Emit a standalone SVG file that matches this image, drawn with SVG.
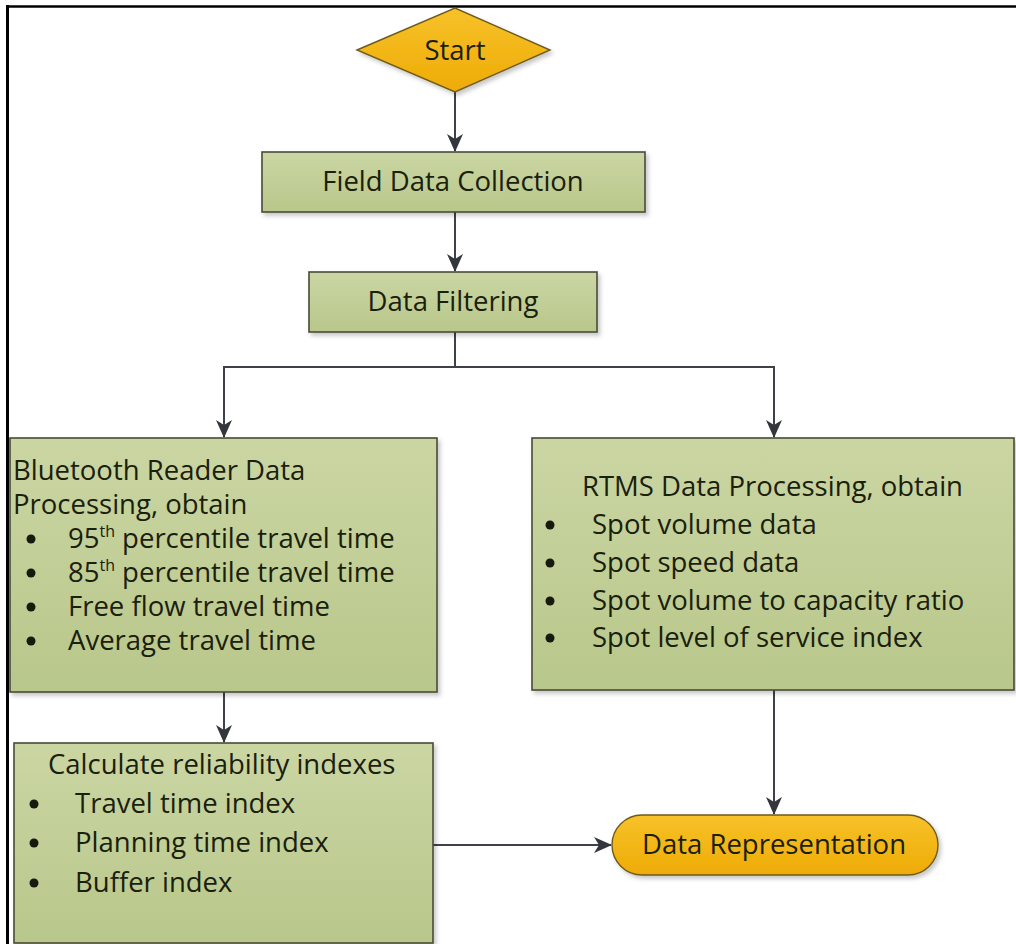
<svg xmlns="http://www.w3.org/2000/svg" width="1016" height="944" viewBox="0 0 1016 944">
<defs>
<style>
.box{fill:url(#g);stroke:#4a4a3a;stroke-width:1.6;filter:url(#sh)}
.gold{fill:url(#y);stroke:#6e5a1e;stroke-width:1.4;filter:url(#sh)}
.t{font-family:"Open Sans","Noto Sans",sans-serif;font-size:27.5px;fill:#1a200c}
.c{text-anchor:middle}
.sup{font-size:16px}
.b{fill:#151a0c}
.ln{fill:none;stroke:#3e4248;stroke-width:2}
</style>
<linearGradient id="g" x1="0" y1="0" x2="0" y2="1">
<stop offset="0" stop-color="#cbd6a3"/>
<stop offset="1" stop-color="#b8c78b"/>
</linearGradient>
<linearGradient id="y" x1="0" y1="0" x2="0" y2="1">
<stop offset="0" stop-color="#f7c22a"/>
<stop offset="1" stop-color="#eeab05"/>
</linearGradient>
<filter id="sh" x="-5%" y="-5%" width="115%" height="125%">
<feDropShadow dx="2.5" dy="3" stdDeviation="2" flood-color="#000" flood-opacity="0.22"/>
</filter>
<marker id="ah" viewBox="0 0 18 16" refX="17" refY="8" markerWidth="18" markerHeight="16" markerUnits="userSpaceOnUse" orient="auto">
<path d="M0,0 L18,8 L0,16 L5,8 Z" fill="#33373d"/>
</marker>
</defs>
<rect width="1016" height="944" fill="#fff"/>
<g id="frame">
<line x1="6" y1="6.5" x2="1016" y2="6.5" stroke="#000" stroke-width="2.5"/>
<line x1="7.5" y1="5" x2="7.5" y2="944" stroke="#000" stroke-width="3"/>
</g>
<g id="connectors">
<line class="ln" x1="455" y1="92" x2="455" y2="151" marker-end="url(#ah)"/>
<line class="ln" x1="455" y1="212" x2="455" y2="271" marker-end="url(#ah)"/>
<polyline class="ln" points="455,332 455,367 224,367 224,437" marker-end="url(#ah)"/>
<polyline class="ln" points="455,367 774,367 774,437" marker-end="url(#ah)"/>
<line class="ln" x1="224" y1="692" x2="224" y2="742" marker-end="url(#ah)"/>
<line class="ln" x1="774" y1="690" x2="774" y2="814" marker-end="url(#ah)"/>
<line class="ln" x1="433" y1="845" x2="611" y2="845" marker-end="url(#ah)"/>
</g>
<g id="start">
<polygon class="gold" points="357,50 455,8 550,50 455,92"/>
<text class="t c" x="455" y="60" font-size="27">Start</text>
</g>
<g id="field">
<rect class="box" x="262" y="152" width="383" height="60"/>
<text class="t c" x="453" y="191">Field Data Collection</text>
</g>
<g id="filter">
<rect class="box" x="309" y="272" width="288" height="60"/>
<text class="t c" x="453" y="311">Data Filtering</text>
</g>
<g id="bluetooth">
<rect class="box" x="10" y="438" width="427" height="254"/>
<text class="t" x="13" y="480">Bluetooth Reader Data</text>
<text class="t" x="13" y="514">Processing, obtain</text>
<circle class="b" cx="31" cy="539" r="4.5"/>
<text class="t" x="68" y="548">95<tspan class="sup" dy="-11">th</tspan><tspan dy="11"> percentile travel time</tspan></text>
<circle class="b" cx="31" cy="573" r="4.5"/>
<text class="t" x="68" y="582">85<tspan class="sup" dy="-11">th</tspan><tspan dy="11"> percentile travel time</tspan></text>
<circle class="b" cx="31" cy="607" r="4.5"/>
<text class="t" x="68" y="616">Free flow travel time</text>
<circle class="b" cx="31" cy="641" r="4.5"/>
<text class="t" x="68" y="650">Average travel time</text>
</g>
<g id="rtms">
<rect class="box" x="532" y="438" width="482" height="252"/>
<text class="t" x="582" y="496">RTMS Data Processing, obtain</text>
<circle class="b" cx="550" cy="525" r="4.5"/>
<text class="t" x="592" y="534">Spot volume data</text>
<circle class="b" cx="550" cy="563" r="4.5"/>
<text class="t" x="592" y="572">Spot speed data</text>
<circle class="b" cx="550" cy="601" r="4.5"/>
<text class="t" x="592" y="610">Spot volume to capacity ratio</text>
<circle class="b" cx="550" cy="638" r="4.5"/>
<text class="t" x="592" y="647">Spot level of service index</text>
</g>
<g id="calc">
<rect class="box" x="14" y="743" width="419" height="200"/>
<text class="t" x="48" y="774">Calculate reliability indexes</text>
<circle class="b" cx="34" cy="804" r="4.5"/>
<text class="t" x="75" y="813">Travel time index</text>
<circle class="b" cx="34" cy="843" r="4.5"/>
<text class="t" x="75" y="852">Planning time index</text>
<circle class="b" cx="34" cy="883" r="4.5"/>
<text class="t" x="75" y="892">Buffer index</text>
</g>
<g id="representation">
<rect class="gold" x="612" y="815" width="326" height="60" rx="30" ry="30"/>
<text class="t c" x="774" y="854">Data Representation</text>
</g>
</svg>
